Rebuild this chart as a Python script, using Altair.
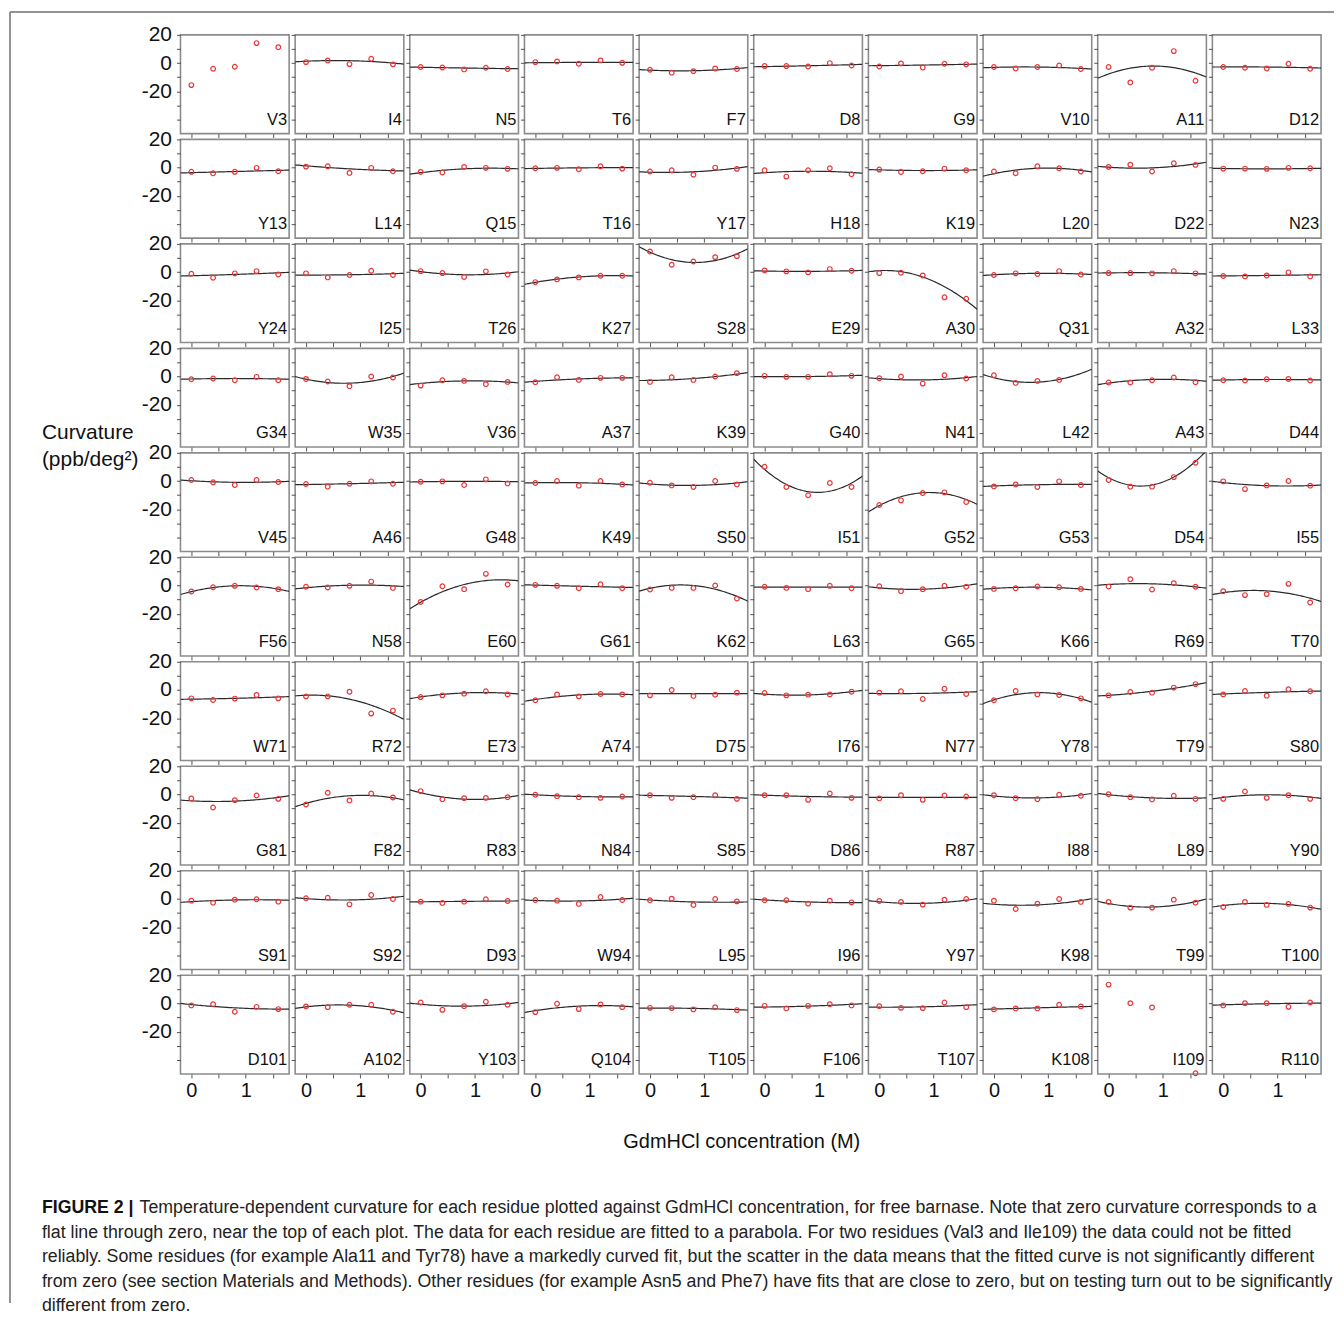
import altair as alt
import numpy as np
import pandas as pd

# ---------------- data ----------------
residues = [
    "V3", "I4", "N5", "T6", "F7", "D8", "G9", "V10", "A11", "D12",
    "Y13", "L14", "Q15", "T16", "Y17", "H18", "K19", "L20", "D22", "N23",
    "Y24", "I25", "T26", "K27", "S28", "E29", "A30", "Q31", "A32", "L33",
    "G34", "W35", "V36", "A37", "K39", "G40", "N41", "L42", "A43", "D44",
    "V45", "A46", "G48", "K49", "S50", "I51", "G52", "G53", "D54", "I55",
    "F56", "N58", "E60", "G61", "K62", "L63", "G65", "K66", "R69", "T70",
    "W71", "R72", "E73", "A74", "D75", "I76", "N77", "Y78", "T79", "S80",
    "G81", "F82", "R83", "N84", "S85", "D86", "R87", "I88", "L89", "Y90",
    "S91", "S92", "D93", "W94", "L95", "I96", "Y97", "K98", "T99", "T100",
    "D101", "A102", "Y103", "Q104", "T105", "F106", "T107", "K108", "I109", "R110",
]

# GdmHCl concentrations (M) of the measurements
conc = [0.0, 0.4, 0.8, 1.2, 1.6]

# curvature (ppb/deg^2) at each concentration, one list per residue
curvature = [
    [-15.6, -4.0, -2.6, 14.2, 11.3], [0.7, 1.9, -0.7, 3.1, -0.9], [-2.8, -3.1, -4.5, -3.3, -4.2],
    [0.7, 1.2, -0.5, 1.9, 0.2], [-4.7, -6.8, -5.7, -3.8, -4.2], [-2.1, -2.1, -2.4, 0.0, -1.7],
    [-2.4, -0.2, -3.1, -0.5, -0.9], [-2.8, -3.8, -2.8, -1.7, -4.2], [-2.8, -13.7, -3.3, 8.5, -12.5],
    [-2.8, -3.3, -3.8, -0.5, -4.0],
    [-3.0, -4.0, -3.0, -0.2, -2.6], [0.7, 0.9, -3.8, -0.2, -2.6], [-3.1, -3.5, 0.5, -0.2, -0.9],
    [-0.5, -0.2, -1.2, 0.9, -0.7], [-2.8, -1.9, -5.0, 0.0, -0.9], [-1.9, -6.4, -1.9, -0.5, -4.7],
    [-1.4, -3.1, -2.6, -0.7, -1.9], [-2.8, -4.0, 0.9, -0.5, -2.8], [0.5, 2.1, -2.8, 3.1, 1.9],
    [-0.7, -0.7, -0.9, -0.2, -0.5],
    [-1.2, -4.0, -0.9, 0.7, -1.7], [-0.9, -3.8, -2.1, 0.9, -2.1], [0.7, -0.7, -3.5, 0.5, -1.7],
    [-7.1, -5.2, -3.8, -2.6, -2.6], [14.6, 5.2, 7.5, 10.6, 11.3], [1.2, 0.5, -0.2, 2.1, 0.9],
    [-0.7, -0.5, -2.4, -17.9, -18.9], [-2.1, -0.9, -1.4, 0.7, -1.7], [-0.7, -0.7, -0.9, 0.7, -0.9],
    [-2.8, -3.1, -2.4, -0.2, -3.1],
    [-1.9, -1.4, -2.6, -0.2, -2.6], [-1.7, -3.5, -6.8, 0.0, -0.7], [-6.4, -2.6, -3.1, -5.4, -3.8],
    [-4.0, -0.5, -2.4, -0.9, -0.9], [-3.8, -0.5, -2.4, 0.0, 2.4], [0.5, -0.2, -0.2, 1.7, 0.5],
    [-1.2, 0.0, -5.0, 0.9, -1.4], [0.9, -4.5, -3.1, -2.4, None], [-4.2, -4.2, -2.6, -0.7, -4.0],
    [-2.6, -2.8, -1.9, -1.7, -2.8],
    [0.7, -0.9, -2.8, 0.7, -0.7], [-2.1, -4.0, -1.9, -0.2, -1.9], [-0.5, -0.2, -2.8, 1.2, -1.7],
    [-1.4, 0.0, -3.3, 0.0, -2.4], [-1.2, -3.1, -4.2, 0.0, -2.4], [10.1, -4.2, -10.1, -1.4, -4.2],
    [-17.0, -13.7, -8.5, -8.0, -14.9], [-3.8, -2.4, -4.2, -0.2, -2.8], [0.7, -4.0, -4.0, 2.8, 13.0],
    [-0.2, -5.7, -3.1, 0.0, -3.3],
    [-4.2, -1.2, -0.2, -1.4, -2.6], [-0.9, -1.4, -0.2, 2.8, -1.7], [-11.6, -0.5, -2.6, 8.3, 0.7],
    [0.5, -0.2, -1.9, 0.9, -1.9], [-2.8, -1.7, -1.7, 0.0, -9.2], [-0.9, -1.7, -2.6, -0.2, -1.9],
    [-0.5, -4.0, -2.6, -0.2, -0.9], [-2.4, -1.9, -0.7, -1.2, -2.4], [-0.7, 4.5, -2.8, 1.7, -0.9],
    [-4.0, -6.8, -6.1, 1.2, -12.0],
    [-5.9, -7.1, -6.1, -3.5, -5.9], [-4.5, -4.5, -1.2, -16.7, -14.6], [-5.0, -3.8, -2.6, -0.9, -3.1],
    [-7.3, -3.1, -4.5, -2.8, -3.1], [-3.8, 0.0, -4.2, -3.3, -1.9], [-2.1, -3.8, -3.3, -3.1, -1.2],
    [-1.9, -0.9, -6.4, 0.9, -2.8], [-7.3, -0.7, -3.1, -3.5, -5.9], [-3.8, -1.4, -1.9, 1.7, 4.2],
    [-3.1, -0.7, -4.0, 0.5, -0.9],
    [-2.8, -9.2, -4.0, -0.7, -3.1], [-7.1, 1.2, -4.2, 0.7, -2.1], [2.4, -3.3, -2.6, -2.4, -1.9],
    [-0.2, -1.2, -1.9, -2.4, -1.4], [-0.5, -2.4, -1.9, -0.5, -3.1], [-0.5, -0.5, -3.8, 0.7, -2.4],
    [-2.8, -0.5, -3.8, -0.7, -1.4], [-0.5, -2.6, -3.3, -0.2, -0.9], [0.2, -1.9, -3.5, -0.9, -3.1],
    [-3.1, 2.1, -2.4, -0.5, -3.1],
    [-1.2, -2.6, -0.5, -0.2, -1.9], [0.5, 0.9, -3.8, 2.8, 0.0], [-1.9, -2.8, -1.9, -0.2, -1.4],
    [-0.7, -1.2, -3.5, 1.4, -0.7], [-0.9, 0.2, -4.2, 0.0, -1.7], [-0.9, -0.9, -3.3, -1.2, -2.4],
    [-1.4, -2.1, -4.0, -0.5, 0.0], [-1.2, -7.1, -3.3, 0.0, -2.1], [-2.1, -6.1, -6.1, -0.5, -2.6],
    [-5.7, -2.1, -4.2, -3.5, -6.1],
    [-1.4, -0.5, -5.9, -2.4, -4.0], [-2.1, -2.6, -0.9, -0.9, -5.9], [0.7, -4.5, -1.9, 1.2, -0.9],
    [-6.1, -0.2, -4.0, -0.7, -2.6], [-3.1, -3.3, -4.2, -2.6, -4.7], [-1.7, -3.5, -1.7, -0.5, -1.4],
    [-1.9, -3.1, -3.3, 0.7, -2.6], [-4.2, -3.5, -3.5, -0.9, -2.1], [13.4, 0.2, -2.8, None, -49.5],
    [-1.4, 0.2, 0.2, -2.4, 0.7],
]

# fitted parabola read at x = -0.2, 0.8 and 1.8 M (None: no reliable fit)
fit_x = [-0.2, 0.8, 1.8]
fit_y = [
    None, [0.9, 1.7, -0.7], [-2.8, -3.5, -4.0], [0.2, 0.5, 0.5], [-4.6, -5.4, -3.2],
    [-2.6, -1.9, -0.9], [-1.9, -1.4, -0.7], [-3.3, -2.8, -4.2], [-10.8, -2.1, -9.9], [-2.8, -2.8, -3.5],
    [-3.8, -2.8, -1.8], [1.9, -0.9, -2.4], [-4.7, -0.9, -0.9], [-0.7, -0.2, 0.0], [-3.0, -3.0, 0.7],
    [-4.2, -2.6, -4.0], [-1.4, -2.1, -1.6], [-6.1, -0.5, -3.1], [0.9, -0.2, 3.8], [-0.5, -0.9, -0.5],
    [-2.8, -1.7, -0.2], [-2.1, -1.9, -0.9], [1.4, -1.9, 0.2], [-8.7, -3.5, -2.8], [18.0, 6.8, 16.5],
    [0.9, 0.5, 1.2], [0.2, -3.5, -26.4], [-2.4, -0.9, -1.7], [-0.7, -0.5, -1.4], [-2.8, -2.4, -1.9],
    [-1.9, -1.4, -1.9], [0.0, -4.7, 2.4], [-5.7, -3.1, -4.5], [-4.0, -1.7, -0.9], [-2.8, -1.4, 2.8],
    [0.0, 0.0, 0.9], [-0.9, -2.4, 0.0], [1.4, -4.0, 5.2], [-5.7, -2.1, -3.3], [-2.6, -2.1, -2.4],
    [0.7, -0.9, -0.2], [-2.6, -1.9, -0.9], [-0.7, -0.2, -0.5], [-1.4, -1.2, -2.8], [-1.4, -3.1, -0.5],
    [15.5, -7.5, 3.5], [-21.9, -8.3, -16.5], [-3.8, -2.6, -2.4], [7.1, -2.8, 21.5], [-0.2, -3.3, -2.8],
    [-6.4, -0.2, -4.2], [-2.4, 0.2, -0.7], [-16.5, 0.7, 3.3], [0.5, -0.5, -1.4], [-4.0, 0.0, -11.1],
    [-1.2, -1.2, -1.2], [-0.9, -2.6, 1.2], [-2.6, -1.2, -3.1], [0.2, 1.2, -1.9], [-6.4, -3.8, -11.3],
    [-6.6, -5.9, -4.7], [-4.2, -6.5, -20.8], [-6.1, -2.1, -2.8], [-8.0, -3.5, -3.3], [-2.6, -2.6, -2.6],
    [-2.4, -3.5, -0.2], [-2.4, -2.4, -1.2], [-9.7, -1.9, -8.7], [-4.2, -0.9, 5.2], [-3.1, -1.7, -0.7],
    [-4.0, -4.7, -0.9], [-8.7, -0.9, -3.8], [3.3, -3.3, -0.7], [0.2, -1.4, -1.7], [-0.5, -1.4, -2.6],
    [-0.2, -1.4, -1.9], [-2.1, -2.1, -2.1], [-0.2, -2.4, 0.7], [0.7, -2.4, -2.4], [-3.1, -0.2, -2.8],
    [-2.4, -0.7, -0.9], [0.9, -0.7, 1.9], [-2.1, -1.7, -1.4], [-0.7, -1.4, 0.5], [-0.2, -2.1, -2.1],
    [-0.2, -2.1, -2.6], [-1.2, -3.1, 0.2], [-3.1, -4.2, 0.2], [-1.7, -5.7, 0.0], [-5.7, -3.1, -7.3],
    [0.0, -3.1, -4.0], [-3.5, -1.2, -6.6], [0.2, -1.9, 0.7], [-6.4, -1.9, -2.4], [-3.3, -3.5, -4.7],
    [-2.6, -1.9, -0.2], [-2.6, -2.4, -0.9], [-4.2, -3.1, -2.1], None, [-1.2, -0.2, 0.2],
]

y_ticks = [20, 10, 0, -10, -20, -30, -40]
x_ticks = [0, 0.5, 1, 1.5]

caption_bold = "FIGURE 2 |"
caption_lines = [
    "Temperature-dependent curvature for each residue plotted against GdmHCl concentration, for free barnase. Note that zero curvature corresponds to a",
    "flat line through zero, near the top of each plot. The data for each residue are fitted to a parabola. For two residues (Val3 and Ile109) the data could not be fitted",
    "reliably. Some residues (for example Ala11 and Tyr78) have a markedly curved fit, but the scatter in the data means that the fitted curve is not significantly different",
    "from zero (see section Materials and Methods). Other residues (for example Asn5 and Phe7) have fits that are close to zero, but on testing turn out to be significantly",
    "different from zero.",
]
y_title = ["Curvature", "(ppb/deg\u00b2)"]
x_title = "GdmHCl concentration  (M)"

# ---------------- tables ----------------
pt_rows = []
for r, vals in zip(residues, curvature):
    for c, v in zip(conc, vals):
        if v is not None:
            pt_rows.append({"res": r, "conc": c, "curv": v})
pts = pd.DataFrame(pt_rows)

xs = np.linspace(fit_x[0], fit_x[2], 61)
fit_rows = []
for r, f in zip(residues, fit_y):
    if f is None:
        continue
    # parabola through the three read points
    coef = np.polyfit(fit_x, f, 2)
    for xv, yv in zip(xs, np.polyval(coef, xs)):
        fit_rows.append({"res": r, "conc": float(xv), "curv": float(yv)})
fits = pd.DataFrame(fit_rows)
labs = pd.DataFrame({"res": residues})

# ---------------- chart ----------------
W, H = 109, 99
FONT = "Liberation Sans"
CAP = 17.8
xscale = alt.Scale(domain=[-0.2, 1.8], nice=False, zero=False)
yscale = alt.Scale(domain=[-50, 20], nice=False, zero=False)
one = alt.Data(values=[{"k": 1}])


def panel(i, r):
    row, col = divmod(i, 10)
    xaxis = alt.Axis(values=x_ticks, labels=(row == 9), title=None, domain=False, grid=False,
                     tickSize=4, labelFontSize=20, labelPadding=3, labelFlush=False,
                     labelOverlap=False,
                     labelExpr="datum.value == 0 ? '0' : datum.value == 1 ? '1' : ''")
    yaxis = alt.Axis(values=y_ticks, labels=(col == 0), title=None, domain=False, grid=False,
                     tickSize=4, labelFontSize=21, labelPadding=5, labelFlush=False,
                     labelOverlap=False,
                     labelExpr="datum.value == 20 ? '20' : datum.value == 0 ? '0' : datum.value == -20 ? '-20' : ''")
    enc = dict(x=alt.X("conc:Q", scale=xscale, axis=xaxis),
               y=alt.Y("curv:Q", scale=yscale, axis=yaxis))
    layers = []
    if fit_y[i] is not None:
        layers.append(alt.Chart(fits).transform_filter(alt.datum.res == r)
                      .mark_line(color="#2a2a2a", strokeWidth=1.2, clip=True).encode(**enc))
    layers.append(alt.Chart(pts).transform_filter(alt.datum.res == r)
                  .mark_point(shape="circle", filled=False, color="#e8373a", size=22,
                              strokeWidth=1.2, opacity=1).encode(**enc))
    layers.append(alt.Chart(labs).transform_filter(alt.datum.res == r)
                  .mark_text(align="right", baseline="alphabetic", fontSize=16.5, font=FONT,
                             color="#111111")
                  .encode(x=alt.value(W - 2), y=alt.value(H - 9), text="res:N"))
    if i == 0:
        # figure frame, axis titles and caption, placed relative to this first panel
        layers.append(alt.Chart(one).mark_rule(color="#707070", strokeWidth=1.5)
                      .encode(x=alt.value(-171), x2=alt.value(1157), y=alt.value(-23)))
        layers.append(alt.Chart(one).mark_rule(color="#707070", strokeWidth=1.5)
                      .encode(x=alt.value(-171), y=alt.value(-23), y2=alt.value(1272)))
        for k, t in enumerate(y_title):
            layers.append(alt.Chart(one).mark_text(align="left", baseline="middle", fontSize=21,
                                                   font=FONT, color="#111111")
                          .encode(x=alt.value(-139), y=alt.value(399 + 27 * k), text=alt.value(t)))
        layers.append(alt.Chart(one).mark_text(align="center", baseline="middle", fontSize=20,
                                               font=FONT, color="#111111")
                      .encode(x=alt.value(563), y=alt.value(1110), text=alt.value(x_title)))
        layers.append(alt.Chart(one).mark_text(align="left", baseline="middle", fontSize=CAP,
                                               font=FONT, fontWeight="bold", color="#111111")
                      .encode(x=alt.value(-139), y=alt.value(1177), text=alt.value(caption_bold)))
        for k, t in enumerate(caption_lines):
            layers.append(alt.Chart(one).mark_text(align="left", baseline="middle", fontSize=CAP,
                                                   font=FONT, color="#222222")
                          .encode(x=alt.value(-139 + (98 if k == 0 else 0)),
                                  y=alt.value(1177 + 24.5 * k), text=alt.value(t)))
    return alt.layer(*layers).properties(width=W, height=H)


chart = alt.concat(*[panel(i, r) for i, r in enumerate(residues)], columns=10,
                   spacing={"row": 5.8, "column": 6.0}, bounds="flush")
chart = (chart.properties(padding={"left": 0, "top": 0, "right": 0, "bottom": 0})
         .configure_view(stroke="#8c8c8c", strokeWidth=1.6)
         .configure_axis(tickColor="#555555", tickWidth=1, labelFont=FONT, labelColor="#111111"))

chart.save("out.html", embed_options={"renderer": "svg", "actions": False})
